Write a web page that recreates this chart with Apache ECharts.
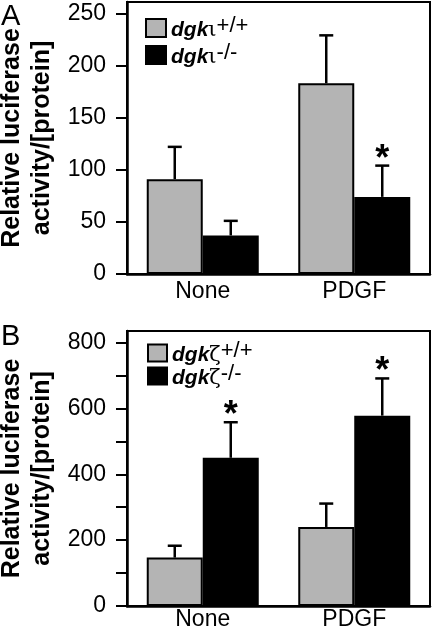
<!DOCTYPE html>
<html>
<head>
<meta charset="utf-8">
<script src="https://cdn.jsdelivr.net/npm/echarts@6/dist/echarts.min.js"></script>
<style>
html,body{margin:0;padding:0;background:#fff;}
#c{width:433px;height:628px;}
</style>
</head>
<body>
<div id="c"></div>
<script>
// ---- data ----
const categories = ['None', 'PDGF'];
// Panel A (dgk iota)
const wtA = [91, 183];
const wtAerr = [31, 46];
const koA = [37, 74];
const koAerr = [14, 30];
const koAstar = [0, 1];
const wtAstar = [0, 0];
const ticksA = [0, 50, 100, 150, 200, 250];
// Panel B (dgk zeta)
const wtB = [147, 240];
const wtBerr = [36, 71];
const koB = [450, 578];
const koBerr = [108, 113];
const koBstar = [1, 1];
const wtBstar = [0, 0];
const ticksB = [0, 100, 200, 300, 400, 500, 600, 700, 800];
const labelsB = [0, 200, 400, 600, 800];

const namesA = ['dgkι+/+', 'dgkι-/-'];
const namesB = ['dgkζ+/+', 'dgkζ-/-'];

const FONT = "'Liberation Sans', Arial, Helvetica, sans-serif";
const GRAY = '#b4b4b4';
const BLACK = '#000000';
const BARW = 56;

const chart = echarts.init(document.getElementById('c'), null, {renderer: 'canvas'});

function errData(vals, errs, stars) {
  return vals.map((v, i) => [i, v, errs[i], stars[i]]);
}
function errSeries(name, xi, vals, errs, stars, side) {
  return {
    type: 'custom',
    name: name + '_err',
    xAxisIndex: xi, yAxisIndex: xi,
    data: errData(vals, errs, stars),
    encode: {x: 0, y: 1},
    z: 5,
    silent: true,
    renderItem: function (params, api) {
      const base = api.coord([api.value(0), api.value(1)]);
      const top = api.coord([api.value(0), api.value(1) + api.value(2)]);
      const x = base[0] + side * BARW / 2;
      const children = [
        {type: 'line', shape: {x1: x, y1: base[1], x2: x, y2: top[1]}, style: {stroke: '#000', lineWidth: 2.5}},
        {type: 'line', shape: {x1: x - 7, y1: top[1], x2: x + 7, y2: top[1]}, style: {stroke: '#000', lineWidth: 2.5}}
      ];
      if (api.value(3)) {
        children.push({type: 'text', style: {text: '*', x: x, y: top[1] - 6, align: 'center', verticalAlign: 'middle', font: 'bold 36px ' + FONT, fill: '#000'}});
      }
      return {type: 'group', children: children};
    }
  };
}
function barSeries(name, xi, vals, color) {
  return {
    type: 'bar', name: name, xAxisIndex: xi, yAxisIndex: xi,
    data: vals, barWidth: BARW, barGap: '0%',
    itemStyle: {color: color, borderColor: '#000', borderWidth: 2},
    emphasis: {disabled: true}
  };
}
function legendFmt(name) {
  return '{h|\u200b}{a|dgk}{g|' + name[3] + '}{s|' + name.slice(4) + '}';
}
const legendRich = {
  h: {fontSize: 10, lineHeight: 26, fontFamily: FONT},
  a: {fontSize: 21, fontWeight: 'bold', fontStyle: 'italic', lineHeight: 20, verticalAlign: 'bottom', fontFamily: FONT, color: '#000'},
  g: {fontSize: 21, lineHeight: 20, verticalAlign: 'bottom', fontFamily: "'DejaVu Serif', serif", color: '#000'},
  s: {fontSize: 22, lineHeight: 12, verticalAlign: 'top', fontFamily: FONT, color: '#000'}
};

function yAxis(gi, max, tickVals, labelVals) {
  return {
    type: 'value', gridIndex: gi, min: 0, max: max,
    name: 'Relative luciferase\nactivity/[protein]',
    nameLocation: 'middle', nameRotate: 90, nameGap: 68,
    nameTextStyle: {fontSize: 25, fontWeight: 'bold', lineHeight: 30, fontFamily: FONT, color: '#000'},
    axisLine: {show: true, lineStyle: {color: '#000', width: 2.5}},
    axisTick: {show: true, length: 11, lineStyle: {color: '#000', width: 2}, customValues: tickVals},
    axisLabel: {fontSize: 23, fontFamily: FONT, color: '#000', margin: 21, customValues: labelVals, padding: [0, 0, 8, 0]},
    splitLine: {show: false}
  };
}
function xAxis(gi, margin) {
  return {
    type: 'category', gridIndex: gi, data: categories,
    axisLine: {show: true, lineStyle: {color: '#000', width: 2.5}},
    axisTick: {show: false},
    axisLabel: {fontSize: 23, fontFamily: FONT, color: '#000', margin: margin}
  };
}

const option = {
  animation: false,
  backgroundColor: '#fff',
  graphic: [
    {type: 'text', left: 1, top: 2, style: {text: 'A', font: '29px ' + FONT, fill: '#000'}},
    {type: 'text', left: 1, top: 322, style: {text: 'B', font: '29px ' + FONT, fill: '#000'}}
  ],
  grid: [
    {left: 127, right: 3, top: 2, bottom: 354, show: true, borderColor: '#000', borderWidth: 2, backgroundColor: 'transparent', containLabel: false, outerBoundsMode: 'none'},
    {left: 127, right: 3, top: 331, bottom: 22, show: true, borderColor: '#000', borderWidth: 2, backgroundColor: 'transparent', containLabel: false, outerBoundsMode: 'none'}
  ],
  legend: [
    {data: namesA, orient: 'vertical', left: 140, top: 10, itemWidth: 20, itemHeight: 18, itemGap: 1, icon: 'rect',
     selectedMode: false, formatter: legendFmt, textStyle: {rich: legendRich}},
    {data: namesB, orient: 'vertical', left: 142, top: 335, itemWidth: 19, itemHeight: 17, itemGap: -3, icon: 'rect',
     selectedMode: false, formatter: legendFmt, textStyle: {rich: legendRich}}
  ],
  xAxis: [xAxis(0, 6), xAxis(1, 2)],
  yAxis: [yAxis(0, 261, ticksA, ticksA), yAxis(1, 835, ticksB, labelsB)],
  series: [
    barSeries(namesA[0], 0, wtA, GRAY),
    barSeries(namesA[1], 0, koA, BLACK),
    errSeries(namesA[0], 0, wtA, wtAerr, wtAstar, -1),
    errSeries(namesA[1], 0, koA, koAerr, koAstar, 1),
    barSeries(namesB[0], 1, wtB, GRAY),
    barSeries(namesB[1], 1, koB, BLACK),
    errSeries(namesB[0], 1, wtB, wtBerr, wtBstar, -1),
    errSeries(namesB[1], 1, koB, koBerr, koBstar, 1)
  ]
};
chart.setOption(option);
</script>
</body>
</html>
